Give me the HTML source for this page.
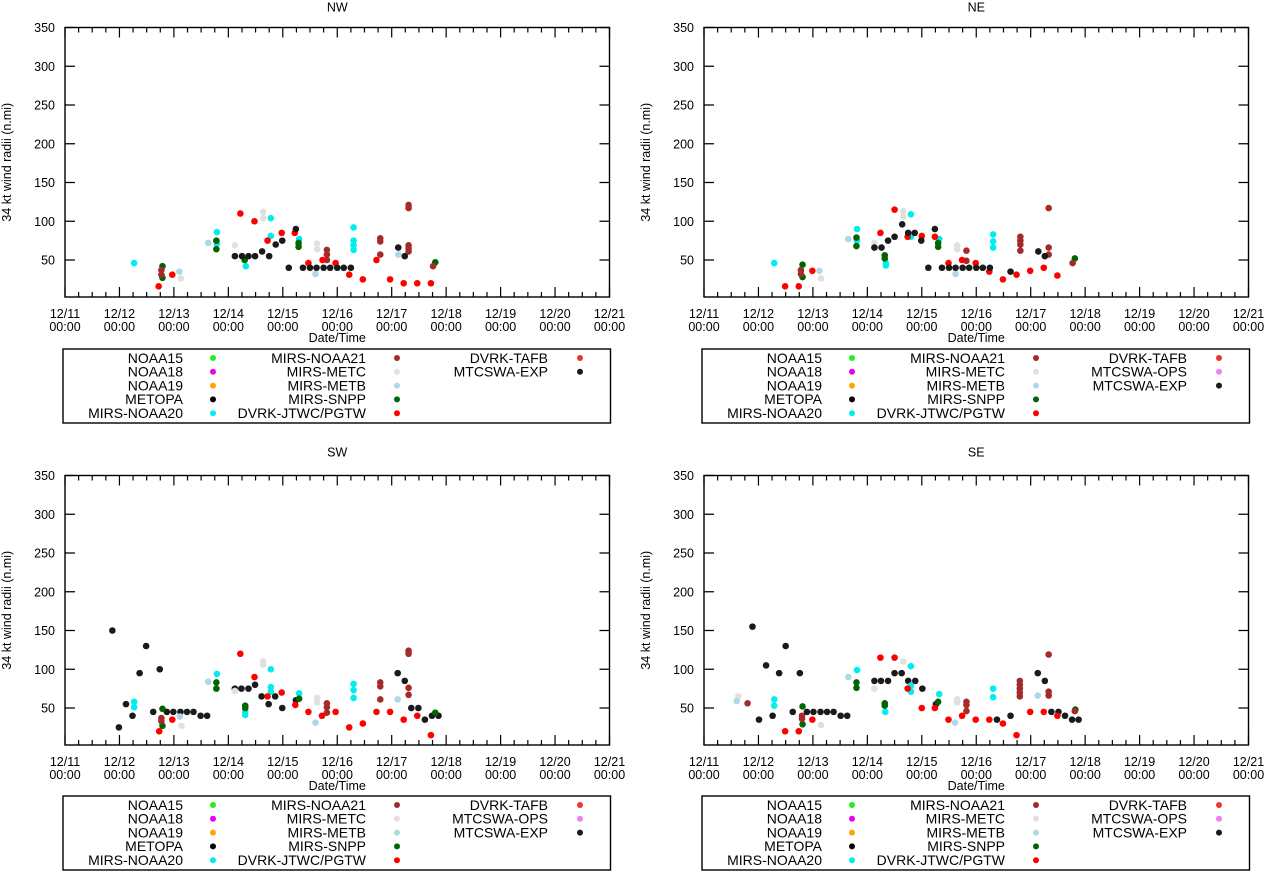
<!DOCTYPE html>
<html><head><meta charset="utf-8"><style>
html,body{margin:0;padding:0;background:#fff;}
svg{display:block;font-family:"Liberation Sans",Arial,sans-serif;}
</style></head><body>
<svg id="chart" width="1267" height="871" viewBox="0 0 1267 871" xmlns="http://www.w3.org/2000/svg"></svg>
<script>
const seriesNames = ["NOAA15","NOAA18","NOAA19","METOPA","MIRS-NOAA20","MIRS-NOAA21","MIRS-METC","MIRS-METB","MIRS-SNPP","DVRK-JTWC/PGTW","DVRK-TAFB","MTCSWA-OPS","MTCSWA-EXP"];
const seriesColors = ["#22ee22","#ee00ee","#ffa500","#000000","#00eeee","#a52a2a","#e0e0e0","#add8e6","#006400","#ff0000","#ee3333","#ee82ee","#1a1a1a"];
const xTickLabels = ["12/11","12/12","12/13","12/14","12/15","12/16","12/17","12/18","12/19","12/20","12/21"];
const yTickValues = [50,100,150,200,250,300,350];

const nwDays = [1.27,2.79,2.79,3.32,3.78,3.78,4.30,5.30,5.30,5.30,5.30,
 2.13,3.64,3.64,3.12,4.63,4.63,
 2.10,2.63,4.60,6.12,
 1.79,1.79,2.78,2.78,3.30,4.29,4.29,6.80,
 1.77,1.77,4.81,4.81,4.81,5.79,5.79,5.79,6.31,6.31,6.31,6.31,6.31,6.76,
 1.72,1.97,3.22,3.48,3.72,3.98,4.22,4.47,4.73,4.97,5.22,5.47,5.72,5.97,6.22,6.47,6.72,
 3.12,3.25,3.37,3.49,3.62,3.75,3.87,3.99,4.24,4.11,4.37,4.50,4.62,4.75,4.87,5.00,5.12,5.25,6.12,6.24];
const nwVals = [46,86,71,42,104,81,77,92,75,69,63,
 26,112,104,69,71,64,
 35,72,32,57,
 42,27,75,64,50,72,67,47,
 37,31,63,57,50,78,74,57,121,117,69,65,61,42,
 16,31,110,100,75,85,85,46,50,46,31,25,50,25,20,20,20,
 55,55,55,55,61,55,70,75,90,40,40,40,40,40,40,40,40,40,66,55];
const nwSeries = [4,4,4,4,4,4,4,4,4,4,4,
 6,6,6,6,6,6,
 7,7,7,7,
 8,8,8,8,8,8,8,8,
 5,5,5,5,5,5,5,5,5,5,5,5,5,5,
 9,9,9,9,9,9,9,9,9,9,9,9,9,9,9,9,9,
 12,12,12,12,12,12,12,12,12,12,12,12,12,12,12,12,12,12,12,12];

const neDays = [1.29,2.81,2.81,3.34,3.34,3.80,3.80,4.32,5.31,5.31,5.31,
 2.15,3.66,3.66,3.13,4.65,4.65,
 2.12,2.65,4.62,
 1.81,1.81,2.80,2.80,3.32,3.32,4.30,4.30,6.81,
 1.78,1.78,4.82,4.82,5.81,5.81,5.81,5.81,6.33,6.33,6.33,6.77,
 1.49,1.74,1.99,3.24,3.50,3.74,4.00,4.24,4.49,4.74,4.99,5.24,5.49,5.74,5.99,6.24,6.49,
 3.13,3.26,3.38,3.50,3.64,3.75,3.87,3.99,4.24,4.12,4.37,4.50,4.62,4.75,4.87,5.00,5.12,5.25,5.63,6.14,6.26];
const neVals = [46,90,75,46,43,109,80,77,83,74,66,
 26,113,106,72,69,64,
 36,77,32,
 44,28,79,68,56,52,72,67,52,
 37,32,62,49,80,75,70,62,117,66,57,46,
 16,16,36,85,115,80,81,80,46,50,46,35,25,31,36,40,30,
 66,66,75,80,96,85,85,75,90,40,40,40,40,40,40,40,40,40,35,61,55];
const neSeries = [4,4,4,4,4,4,4,4,4,4,4,
 6,6,6,6,6,6,
 7,7,7,
 8,8,8,8,8,8,8,8,8,
 5,5,5,5,5,5,5,5,5,5,5,5,
 9,9,9,9,9,9,9,9,9,9,9,9,9,9,9,9,9,
 12,12,12,12,12,12,12,12,12,12,12,12,12,12,12,12,12,12,12,12,12];

const swDays = [0.87,0.99,1.12,1.24,1.37,1.49,1.62,1.74,1.87,1.99,2.12,2.24,2.36,2.49,2.61,3.12,3.24,3.37,3.49,3.61,3.74,3.86,3.99,4.24,6.11,6.24,6.36,6.49,6.61,6.74,6.86,
 1.27,1.27,2.79,3.31,3.31,3.78,3.78,3.78,4.30,5.30,5.30,5.30,
 2.14,3.64,3.64,3.12,4.63,4.63,
 2.11,2.63,4.60,6.11,
 1.79,1.79,2.78,2.78,3.31,3.31,4.30,6.80,
 1.77,1.77,4.81,4.81,4.81,5.79,5.79,5.79,6.31,6.31,6.31,6.31,
 1.73,1.97,3.22,3.48,3.72,3.98,4.23,4.47,4.72,4.97,5.22,5.47,5.72,5.97,6.22,6.47,6.72];
const swVals = [150,25,55,40,95,130,45,100,45,45,45,45,45,40,40,75,75,75,80,65,55,65,50,60,95,85,50,50,35,40,40,
 58,51,94,45,41,100,77,71,69,81,73,63,
 27,110,106,72,63,57,
 39,84,31,61,
 49,27,83,75,53,50,62,44,
 37,33,56,51,44,83,78,61,124,120,76,67,
 20,35,120,90,65,70,54,45,40,45,25,30,45,45,35,40,15];
const swSeries = [12,12,12,12,12,12,12,12,12,12,12,12,12,12,12,12,12,12,12,12,12,12,12,12,12,12,12,12,12,12,12,
 4,4,4,4,4,4,4,4,4,4,4,4,
 6,6,6,6,6,6,
 7,7,7,7,
 8,8,8,8,8,8,8,8,
 5,5,5,5,5,5,5,5,5,5,5,5,
 9,9,9,9,9,9,9,9,9,9,9,9,9,9,9,9,9];

const seDays = [0.89,1.01,1.14,1.26,1.38,1.50,1.63,1.76,1.89,2.01,2.14,2.26,2.38,2.51,2.63,3.13,3.25,3.38,3.50,3.63,3.75,3.88,4.01,4.26,5.38,5.63,6.13,6.26,6.38,6.51,6.63,6.76,6.88,
 0.63,3.13,3.66,4.65,4.65,2.15,
 0.60,2.65,4.61,6.13,
 1.29,1.29,2.81,3.33,3.80,3.80,3.80,4.32,5.31,5.31,
 1.81,1.81,2.80,2.80,3.32,3.32,4.30,6.82,
 0.80,1.80,1.80,4.82,4.82,4.82,5.80,5.80,5.80,5.80,5.80,6.33,6.33,6.33,6.81,
 1.49,1.74,1.99,3.24,3.50,3.74,4.00,4.24,4.49,4.74,4.99,5.24,5.49,5.74,5.99,6.24,6.49];
const seVals = [155,35,105,40,95,130,45,95,45,45,45,45,45,40,40,85,85,85,95,95,85,85,75,55,35,40,95,85,45,45,40,35,35,
 65,75,110,61,57,28,
 59,90,31,66,
 61,53,99,45,104,79,71,68,75,64,
 52,29,83,76,56,53,58,48,
 56,40,36,58,54,46,85,80,75,70,65,119,71,66,46,
 20,20,35,115,115,75,50,50,35,40,35,35,30,15,45,45,40];
const seSeries = [12,12,12,12,12,12,12,12,12,12,12,12,12,12,12,12,12,12,12,12,12,12,12,12,12,12,12,12,12,12,12,12,12,
 6,6,6,6,6,6,
 7,7,7,7,
 4,4,4,4,4,4,4,4,4,4,
 8,8,8,8,8,8,8,8,
 5,5,5,5,5,5,5,5,5,5,5,5,5,5,5,
 9,9,9,9,9,9,9,9,9,9,9,9,9,9,9,9,9];

const NS = "http://www.w3.org/2000/svg";
const svg = document.getElementById("chart");
function mk(tag, attrs, parent, text){
  const e = document.createElementNS(NS, tag);
  for (const k in attrs) e.setAttribute(k, attrs[k]);
  if (text !== undefined) e.textContent = text;
  (parent || svg).appendChild(e);
  return e;
}

const panels = [
  {key:"nw", title:"NW", titleY:11.5, left:65, right:609.5, top:27.5, bottom:297, days:nwDays, vals:nwVals, ser:nwSeries, legTop:349, legend:[[0,1,2,3,4],[5,6,7,8,9],[10,12]]},
  {key:"ne", title:"NE", titleY:11.5, left:704, right:1248.5, top:27.5, bottom:297, days:neDays, vals:neVals, ser:neSeries, legTop:349, legend:[[0,1,2,3,4],[5,6,7,8,9],[10,11,12]]},
  {key:"sw", title:"SW", titleY:456.5, left:65, right:609.5, top:475.5, bottom:745, days:swDays, vals:swVals, ser:swSeries, legTop:796, legend:[[0,1,2,3,4],[5,6,7,8,9],[10,11,12]]},
  {key:"se", title:"SE", titleY:456.5, left:704, right:1248.5, top:475.5, bottom:745, days:seDays, vals:seVals, ser:seSeries, legTop:796, legend:[[0,1,2,3,4],[5,6,7,8,9],[10,11,12]]}
];

panels.forEach(p => {
  const g = mk("g", {});
  
  
  const y50 = p.bottom - 37;
  const perUnit = (y50 - p.top) / 300;
  const yScale = v => y50 - (v - 50) * perUnit;
  const xScale = d => p.left + d * (p.right - p.left) / 10;
  const cx = (p.left + p.right) / 2;

  const t = mk("text", {x:cx, y:p.titleY, "text-anchor":"middle", "font-size":"12.5"}, g, p.title);
  
  

  yTickValues.forEach(v => {
    const y = yScale(v);
    const tk = mk("path", {d:`M${p.left} ${y}h10M${p.right} ${y}h-10`, stroke:"#000", "stroke-width":"1.2"}, g);
    
    
    const lb = mk("text", {x:p.left - 10, y:y + 4.5, "text-anchor":"end", "font-size":"12.5"}, g, String(v));
    
    
  });
  for (let i = 0; i <= 40; i++) {
    const x = p.left + i * (p.right - p.left) / 40;
    const len = i % 4 === 0 ? 10 : 5;
    const tk = mk("path", {d:`M${x} ${p.bottom}v${-len}M${x} ${p.top}v${len}`, stroke:"#000", "stroke-width":"1.2"}, g);
    
    
  }
  xTickLabels.forEach((lab, i) => {
    const x = xScale(i);
    const lb = mk("text", {x:x, y:p.bottom + 21, "text-anchor":"middle", "font-size":"12.5"}, g);
    
    
    mk("tspan", {x:x}, lb, lab);
    mk("tspan", {x:x, dy:"13"}, lb, "00:00");
  });
  const yt = mk("text", {x:0, y:0, "text-anchor":"middle", "font-size":"12.5", transform:`translate(${p.left - 54},${(p.top + p.bottom) / 2}) rotate(-90)`}, g, "34 kt wind radii (n.mi)");
  
  
  const xt = mk("text", {x:cx, y:p.bottom + 45, "text-anchor":"middle", "font-size":"12.5"}, g, "Date/Time");
  
  

  const pts = mk("g", {}, g);
  
  
  p.days.forEach((d, i) => {
    const c = mk("circle", {cx:xScale(d), cy:yScale(p.vals[i]), r:3.3, fill:seriesColors[p.ser[i]]}, pts);
    
    
  });

  const fr = mk("rect", {x:p.left, y:p.top, width:p.right - p.left, height:p.bottom - p.top, fill:"none", stroke:"#000", "stroke-width":"1.4"}, g);
  
  

  const lg = mk("g", {}, g);
  
  
  const bx = p.left - 2;
  const lr = mk("rect", {x:bx, y:p.legTop, width:p.right - p.left + 3, height:74, fill:"none", stroke:"#000", "stroke-width":"1.4"}, lg);
  
  
  const colText = [120, 303, 485], colDot = [150, 334, 517];
  p.legend.forEach((col, ci) => {
    col.forEach((s, ri) => {
      const y = p.legTop + 9 + ri * 13.8;
      const tx = mk("text", {x:bx + colText[ci], y:y + 4.8, "text-anchor":"end", "font-size":"14"}, lg, seriesNames[s]);
      
      
      const dt = mk("circle", {cx:bx + colDot[ci], cy:y, r:3, fill:seriesColors[s]}, lg);
      
      
    });
  });
});
</script>
</body></html>
